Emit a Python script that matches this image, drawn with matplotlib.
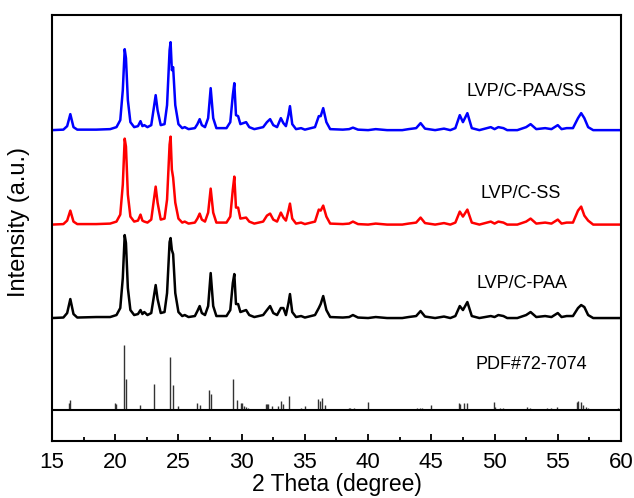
import numpy as np
import matplotlib
matplotlib.use('Agg')
import matplotlib.pyplot as plt
from matplotlib.ticker import MultipleLocator

plt.rcParams['font.family'] = ['Liberation Sans', 'DejaVu Sans']

# traced vertices of the three patterns (intensity above each baseline, a.u.)
two_theta = [15.0, 15.9, 16.2, 16.45, 16.7, 17.0, 18.5, 19.6, 20.1, 20.4,
             20.6, 20.75, 20.85, 21.0, 21.2, 21.5, 21.8, 22.0, 22.15, 22.3,
             22.55, 22.85, 23.05, 23.2, 23.35, 23.6, 23.9, 24.1, 24.3, 24.38,
             24.48, 24.58, 24.75, 25.0, 25.3, 25.5, 25.8, 26.3, 26.5, 26.68,
             26.85, 27.1, 27.35, 27.55, 27.75, 28.0, 28.8, 29.1, 29.3, 29.42,
             29.55, 29.72, 29.9, 30.35, 30.6, 31.0, 31.7, 32.0, 32.25, 32.5,
             32.8, 33.1, 33.3, 33.5, 33.7, 33.82, 34.0, 34.3, 34.7, 35.0,
             35.8, 36.1, 36.25, 36.45, 36.7, 37.0, 38.0, 38.5, 38.8, 39.2,
             40.0, 40.6, 41.5, 42.7, 43.2, 43.8, 44.15, 44.5, 45.3, 46.0,
             46.5, 46.9, 47.25, 47.5, 47.85, 48.2, 48.8, 49.7, 50.0, 50.3,
             50.7, 51.0, 51.8, 52.5, 52.85, 53.3, 54.0, 54.5, 55.0, 55.3,
             55.7, 56.2, 56.6, 56.85, 57.1, 57.4, 57.8, 59.0, 60.0]

paa_ss = [0, 0.5, 4, 16, 3, 0.5, 0.5, 1, 3, 10,
          40, 81, 72, 30, 8, 3, 4, 9, 4, 5,
          3, 5, 22, 35, 20, 5, 6, 25, 80, 88,
          60, 63, 25, 6, 2, 3, 1, 2, 6, 11,
          5, 3, 12, 42, 12, 2, 2, 8, 35, 47,
          15, 14, 6, 8, 3, 1, 3, 8, 11, 5,
          3, 12, 7, 4, 15, 24, 6, 1, 2, 0.5,
          3, 14, 14, 22, 8, 1, 0.5, 1, 2.5, 0.5,
          0, 1, 0, 0, 1, 2, 7, 1.5, 0, 1.5,
          0, 2, 15, 8, 17, 2, 0, 3, 1, 3,
          2, 0, 0, 3, 6, 1, 2, 1, 5, 1,
          2, 2, 12, 17, 12, 3, 0, 0, 0]

ss = [0, 0.5, 4, 14, 3, 0.5, 0.5, 1, 3, 10,
      40, 86, 78, 30, 8, 3, 4, 10, 4, 3,
      2, 5, 24, 38, 22, 5, 6, 25, 80, 88,
      55, 47, 22, 6, 2, 3, 1, 2, 6, 11,
      5, 3, 12, 36, 12, 2, 2, 8, 35, 48,
      17, 17, 6, 7, 3, 1, 3, 9, 11, 5,
      3, 12, 7, 4, 14, 21, 6, 1, 2, 0.5,
      3, 15, 14, 19, 8, 1, 0.5, 1, 3, 0.5,
      0, 1, 0, 0, 1, 2, 7, 1.5, 0, 1.5,
      0, 2, 13, 8, 15, 2, 0, 3, 1, 3,
      2, 0, 0, 3, 6, 1, 2, 1, 5, 1,
      2, 2, 14, 18, 9, 4, 0, 0, 0]

paa = [0, 0.5, 5, 19, 4, 0.5, 1, 1, 3, 10,
       40, 83, 75, 30, 8, 3, 4, 8, 4, 6,
       3, 5, 21, 33, 19, 5, 6, 25, 76, 80,
       68, 64, 25, 6, 2, 3, 1, 2, 7, 12,
       5, 3, 12, 45, 12, 2, 2, 8, 35, 44,
       14, 14, 6, 8, 3, 1, 3, 8, 12, 5,
       3, 10, 10, 3, 15, 24, 6, 1, 2, 0.5,
       3, 10, 14, 22, 8, 1, 0.5, 1, 3, 0.5,
       0, 1, 0, 0, 1, 2, 7, 1.5, 0, 1.5,
       0, 2, 12, 8, 16, 2, 0, 2, 1, 3,
       2, 0, 0, 3, 6, 1, 2, 1, 5, 1,
       2, 2, 10, 13, 11, 3, 0, 0, 0]

# PDF#72-7074 reference lines
pdf_pos = [16.32, 16.4, 19.98, 20.05, 20.68, 20.84, 21.95, 23.1, 24.37, 24.58,
           25.0, 25.47, 26.5, 26.68, 27.45, 27.55, 29.34, 29.66, 29.96, 30.02,
           30.21, 30.34, 30.5, 31.9, 31.98, 32.06, 32.37, 32.9, 33.08, 33.26,
           33.73, 34.68, 35.0, 36.05, 36.16, 36.37, 36.58, 38.0, 38.5, 38.6,
           38.9, 39.96, 42.3, 43.9, 44.1, 44.3, 44.97, 47.16, 47.3, 47.6,
           47.8, 49.92, 50.0, 50.4, 50.7, 52.56, 52.8, 54.13, 54.5, 54.92,
           56.5, 56.6, 56.8, 57.0, 57.2, 57.4, 57.8, 59.77]
pdf_int = [7, 10, 7, 6, 65, 31, 5, 26, 53, 25,
           4, 1, 7, 5, 20, 16, 31, 10, 7, 7,
           4, 3, 2, 6, 6, 6, 4, 4, 9, 6,
           14, 1.5, 4, 11, 9, 12, 5, 1, 1.5, 1.5,
           2, 7.5, 1, 2, 2, 2, 5, 7, 6, 7,
           7, 8, 3, 2, 2, 3, 2, 2, 2, 3,
           8, 9, 8, 5, 3, 2, 1, 2]

fig = plt.figure(figsize=(6.34, 4.98), dpi=100)
ax = fig.add_axes([0.082, 0.1145, 0.8975, 0.855])

base_pdf, base_paa, base_ss, base_paa_ss = 31, 123, 216.5, 311

ax.plot(two_theta, np.array(paa) + base_paa, color='black', lw=1.8)
ax.plot(two_theta, np.array(ss) + base_ss, color='#ff0000', lw=1.8)
ax.plot(two_theta, np.array(paa_ss) + base_paa_ss, color='#0000ff', lw=1.8)
ax.vlines(pdf_pos, base_pdf, np.array(pdf_int) + base_pdf, color='#333333', lw=1.0)
ax.axhline(base_pdf, color='black', lw=1.5)

fs = 13
ax.text(47.8, 350, 'LVP/C-PAA/SS', fontsize=fs, va='center')
ax.text(48.9, 248, 'LVP/C-SS', fontsize=fs, va='center')
ax.text(48.6, 158, 'LVP/C-PAA', fontsize=fs, va='center')
ax.text(48.5, 77, 'PDF#72-7074', fontsize=fs, va='center')

ax.set_xlim(15, 60)
ax.set_ylim(0, 426)
ax.xaxis.set_major_locator(MultipleLocator(5))
ax.xaxis.set_minor_locator(MultipleLocator(2.5))
ax.tick_params(axis='x', which='both', direction='in', top=False,
               labelsize=16, width=1.3, pad=8)
ax.tick_params(axis='x', which='major', length=5)
ax.tick_params(axis='x', which='minor', length=3)
ax.set_yticks([])
for s in ax.spines.values():
    s.set_linewidth(1.5)

ax.set_xlabel('2 Theta (degree)', fontsize=16.5, labelpad=0)
ax.set_ylabel('Intensity (a.u.)', fontsize=17)
ax.yaxis.set_label_coords(-0.039, 0.514)

plt.savefig('out.png')
